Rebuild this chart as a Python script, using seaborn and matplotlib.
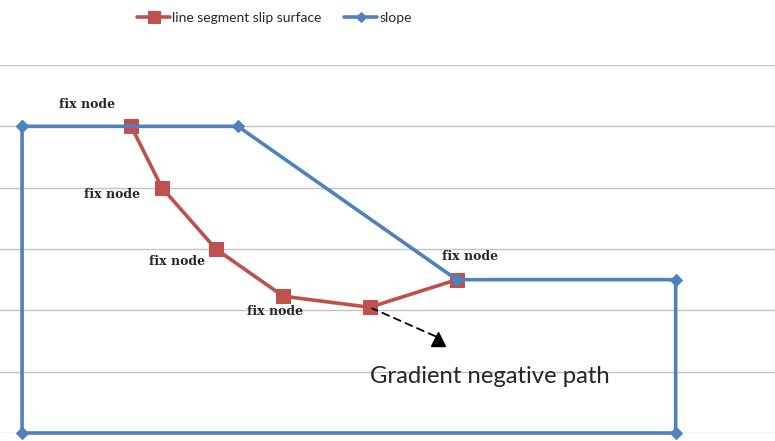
"""Slip surface vs slope profile, redrawn with seaborn."""

import matplotlib
matplotlib.use("Agg")
import matplotlib.pyplot as plt
import seaborn as sns

# slope outline (closed)
slope_x = [0.0, 3.52, 7.09, 10.66, 10.66, 0.0, 0.0]
slope_y = [5.0, 5.0, 2.5, 2.5, 0.0, 0.0, 5.0]

# line segment slip surface nodes
slip_x = [1.78, 2.28, 3.16, 4.26, 5.67, 7.09]
slip_y = [5.0, 4.0, 3.0, 2.23, 2.05, 2.5]

# which slip nodes carry a "fix node" label
fix_nodes = [0, 1, 2, 3, 5]
fix_label = "fix node"

series_names = ["line segment slip surface", "slope"]
arrow_text = "Gradient negative path"

RED = "#C0504D"
BLUE = "#4F81BD"

sns.set_theme(style="white")
plt.rcParams["font.family"] = ["Lato", "DejaVu Sans"]

fig = plt.figure(figsize=(7.75, 4.41), dpi=100)
ax = fig.add_axes([0, 0.0181, 1, 0.8345])

# horizontal gridlines only
ax.set_yticks(range(0, 7))
ax.yaxis.grid(True, color="#C4C4C4", lw=1)
ax.set_axisbelow(True)

sns.lineplot(x=slip_x, y=slip_y, sort=False, estimator=None, ax=ax,
             color=RED, lw=2.6, marker="s", markersize=10,
             markeredgecolor=RED, label=series_names[0], clip_on=False)
sns.lineplot(x=slope_x, y=slope_y, sort=False, estimator=None, ax=ax,
             color=BLUE, lw=2.6, marker="D", markersize=6.5,
             markeredgecolor=BLUE, label=series_names[1], clip_on=False)

ax.set_xlim(-0.36, 12.28)
ax.set_ylim(0, 6)
ax.set_xticks([])
ax.tick_params(left=False, labelleft=False)
for s in ax.spines.values():
    s.set_visible(False)

# fix node labels, offset from their nodes (pixels)
offsets = {0: (-44, 22), 1: (-50, -7), 2: (-39, -12), 3: (-8, -15), 5: (13, 23)}
for i in fix_nodes:
    ax.annotate(fix_label, (slip_x[i], slip_y[i]), xytext=offsets[i],
                textcoords="offset pixels", ha="center", va="center",
                fontsize=9, fontweight="bold", family="DejaVu Serif",
                color="#262626")

# gradient negative path arrow from the lowest node
low = slip_y.index(min(slip_y))
ax.annotate("", xy=(slip_x[low], slip_y[low]), xytext=(68, -30),
            textcoords="offset pixels",
            arrowprops=dict(arrowstyle="-", ls=(0, (4, 3)), color="black", lw=1.3))
ax.plot([slip_x[low] + 68 / 61.3], [slip_y[low] - 32 / 61.3], marker="^",
        color="black", markersize=10, clip_on=False)
ax.text(slip_x[low] + 0.0, 0.92, arrow_text, ha="left", va="center",
        fontsize=17.2, color="#262626")

ax.get_legend().remove()
handles, labels = ax.get_legend_handles_labels()
fig.legend(handles, labels, loc="center", bbox_to_anchor=(0.354, 0.959), ncol=2,
           frameon=False, fontsize=10, handlelength=2.4, handletextpad=0.15,
           columnspacing=1.6, markerscale=0.8)

fig.savefig("out.png", dpi=100, facecolor="white")
